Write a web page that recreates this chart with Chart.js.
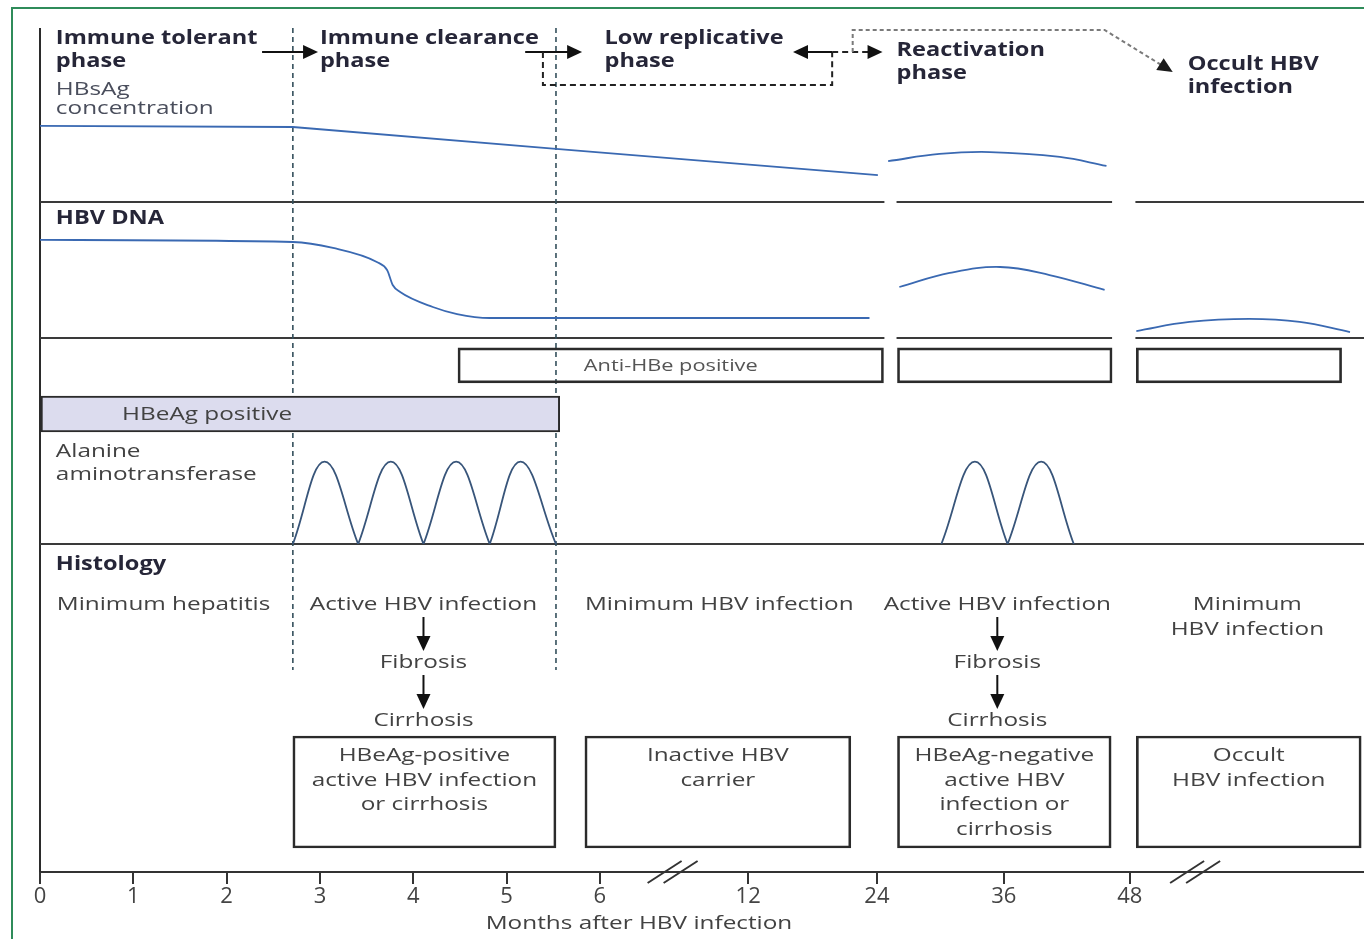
<!DOCTYPE html>
<html>
<head>
<meta charset="utf-8">
<title>Natural history of chronic HBV infection</title>
<script src="https://cdn.jsdelivr.net/npm/chart.js@4.4.1/dist/chart.umd.min.js"></script>
<style>
  html, body { margin: 0; padding: 0; background: #fff; }
  #wrap { width: 1364px; height: 939px; }
</style>
</head>
<body>
<div id="wrap"><canvas id="phaseChart" width="1364" height="939"></canvas></div>
<script>
// x axis is broken: months 0-6 linear, then compressed steps (12, 24, 36, 48)
const tickPos = [0, 1, 2, 3, 4, 5, 6, 7.59, 8.97, 10.33, 11.68];
const tickLabels = ['0', '1', '2', '3', '4', '5', '6', '12', '24', '36', '48'];
const xEnd = 14.19;
const axisBreaks = [6.78, 12.38];

// phase borders (dashed verticals) and divider segments between panels
const phaseBorders = [2.71, 5.53];
const dividerSegments = [[0, 9.05], [9.18, 11.49], [11.74, xEnd]];

// HBsAg concentration (% of panel height)
const hbsagPhase1X = [0, 2.71, 5.53, 8.98];
const hbsagPhase1 = [43.7, 43.1, 30.5, 15.5];
const hbsagReactX = [9.09, 9.64, 10.18, 10.93, 11.43];
const hbsagReact = [23.5, 27.6, 28.7, 25.9, 20.7];

// HBV DNA (% of panel height)
const dnaPhase1X = [0, 2.71, 3.14, 3.61, 3.72, 3.78, 3.86, 4.21, 4.47, 4.82, 8.89];
const dnaPhase1 = [72.1, 70.6, 66.2, 55.9, 50.0, 39.0, 33.8, 22.8, 17.6, 14.7, 14.7];
const dnaReactX = [9.21, 9.75, 10.29, 10.82, 11.41];
const dnaReact = [37.5, 47.8, 52.2, 46.3, 35.3];
const dnaOccultX = [11.75, 12.32, 12.96, 13.5, 14.04];
const dnaOccult = [5.1, 11.8, 14.0, 11.8, 4.4];

// alanine aminotransferase flares
const altStartX = [2.71, 3.41, 4.11, 4.82, 9.66, 10.37];
const altPeakX = [3.05, 3.76, 4.46, 5.15, 10.02, 10.73];
const altEndX = [3.41, 4.11, 4.82, 5.53, 10.37, 11.08];
const altPeak = [40, 40, 40, 40, 40, 40];

// serology bars
const antiHbeStart = [4.48, 9.19, 11.75];
const antiHbeEnd = [9.04, 11.49, 13.95];
const antiHbeLevel = 86.7;
const hbeagStart = [0];
const hbeagEnd = [5.57];
const hbeagLevel = 63.1;

// outcome boxes (histology panel)
const outcomeStart = [2.71, 5.84, 9.19, 11.75];
const outcomeEnd = [5.53, 8.69, 11.48, 14.16];
const outcomeLevel = 24.4;
const outcomeLabels = [
  ['HBeAg-positive', 'active HBV infection', 'or cirrhosis'],
  ['Inactive HBV', 'carrier'],
  ['HBeAg-negative', 'active HBV', 'infection or', 'cirrhosis'],
  ['Occult', 'HBV infection']
];

const phaseNames = [
  ['Immune tolerant', 'phase'],
  ['Immune clearance', 'phase'],
  ['Low replicative', 'phase'],
  ['Reactivation', 'phase'],
  ['Occult HBV', 'infection']
];
const phaseNameX = [0.17, 3.0, 6.05, 9.18, 12.3];

const INK = '#2b2b2b';
const HEAD = '#262638';
const TXT = '#424242';
const BLUE = '#3a69b2';
const BOLD = 'bold 19px "Open Sans"';
const REG = '19px "Open Sans"';

function pts(xs, ys) {
  return xs.map((x, i) => ({ x: x, y: ys[i] }));
}

function altPoints() {
  const out = [];
  altStartX.forEach((x, i) => {
    if (i > 0) out.push({ x: x, y: null });
    out.push({ x: x, y: 0 }, { x: altPeakX[i], y: altPeak[i] }, { x: altEndX[i], y: 0 });
  });
  return out;
}

// the source artwork is set in a wide face, so stretch the text a little
function text(c, s, x, y, font, color, align) {
  c.save();
  c.font = font;
  c.fillStyle = color;
  c.textAlign = align || 'left';
  c.textBaseline = 'alphabetic';
  c.translate(x, y);
  c.scale(font.indexOf('bold') === 0 ? 1.24 : 1.28, 1);
  c.fillText(s, 0, 0);
  c.restore();
}

function seg(c, x1, y1, x2, y2, color, w, dash) {
  c.save();
  c.strokeStyle = color;
  c.lineWidth = w;
  c.setLineDash(dash || []);
  c.beginPath();
  c.moveTo(x1, y1);
  c.lineTo(x2, y2);
  c.stroke();
  c.restore();
}

function head(c, x, y, ang, color) {
  c.save();
  c.translate(x, y);
  c.rotate(ang);
  c.beginPath();
  c.moveTo(0, 0);
  c.lineTo(-15, -7);
  c.lineTo(-15, 7);
  c.closePath();
  c.fillStyle = color;
  c.fill();
  c.restore();
}

const diagram = {
  id: 'diagram',
  beforeDraw(chart) {
    const c = chart.ctx;
    c.save();
    c.strokeStyle = '#2f8c5a';
    c.lineWidth = 2;
    c.beginPath();
    c.moveTo(12, chart.height);
    c.lineTo(12, 8);
    c.lineTo(chart.width, 8);
    c.stroke();
    c.restore();
  },
  beforeDatasetsDraw(chart) {
    const { ctx: c, chartArea: ca, scales: s } = chart;
    const X = v => s.x.getPixelForValue(v);
    seg(c, ca.left, ca.top, ca.left, ca.bottom, INK, 2);
    [s.yDna.top, s.yAlt.top].forEach(y => {
      dividerSegments.forEach(([a, b]) => seg(c, X(a), y, X(b), y, '#3a3a3a', 2));
    });
    seg(c, ca.left, s.yHis.top, ca.right, s.yHis.top, '#3a3a3a', 2);
    phaseBorders.forEach(v => seg(c, X(v), ca.top, X(v), s.yHis.top + 126, '#34505c', 1.6, [5, 4]));
  },
  afterDatasetsDraw(chart) {
    const { ctx: c, chartArea: ca, scales: s } = chart;
    const X = v => s.x.getPixelForValue(v);
    const top = ca.top;

    // phase names
    phaseNames.forEach((lines, i) => {
      const dy = i === 3 ? 28 : (i === 4 ? 42 : 16);
      lines.forEach((t, k) => text(c, t, X(phaseNameX[i]), top + dy + k * 23, BOLD, HEAD));
    });

    // phase transition arrows
    const ay = top + 24;
    seg(c, X(2.38), ay, X(2.98) - 14, ay, '#111', 2);
    head(c, X(2.98), ay, 0, '#111');
    seg(c, X(5.2), ay, X(5.81) - 14, ay, '#111', 2);
    head(c, X(5.81), ay, 0, '#111');
    c.save();
    c.strokeStyle = '#222'; c.lineWidth = 2; c.setLineDash([6, 4]);
    c.beginPath();
    c.moveTo(X(5.39), ay); c.lineTo(X(5.39), top + 57); c.lineTo(X(8.49), top + 57); c.lineTo(X(8.49), ay);
    c.stroke();
    c.restore();
    seg(c, X(8.49), ay, X(8.07) + 14, ay, '#111', 2);
    head(c, X(8.07), ay, Math.PI, '#111');
    seg(c, X(8.49), ay, X(9.03) - 14, ay, '#222', 2, [6, 4]);
    head(c, X(9.03), ay, 0, '#111');
    const tipX = X(12.14), tipY = top + 44;
    const fromX = X(11.41), fromY = top + 2;
    const ang = Math.atan2(tipY - fromY, tipX - fromX);
    c.save();
    c.strokeStyle = '#7a7a7a'; c.lineWidth = 2; c.setLineDash([4, 3]);
    c.beginPath();
    c.moveTo(X(8.71), ay); c.lineTo(X(8.71), fromY); c.lineTo(fromX, fromY);
    c.lineTo(tipX - 14 * Math.cos(ang), tipY - 14 * Math.sin(ang));
    c.stroke();
    c.restore();
    head(c, tipX, tipY, ang, '#1a1a1a');

    // panel labels
    text(c, 'HBsAg', X(0.17), top + 67, REG, '#4a4e5c');
    text(c, 'concentration', X(0.17), top + 86, REG, '#4a4e5c');
    text(c, 'HBV DNA', X(0.17), s.yDna.top + 22, BOLD, HEAD);
    text(c, 'Anti-HBe positive', X(6.76), s.yAlt.top + 33, '17px "Open Sans"', '#555', 'center');
    text(c, 'HBeAg positive', X(0.88), s.yAlt.top + 82, REG, TXT);
    text(c, 'Alanine', X(0.17), s.yAlt.top + 119, REG, TXT);
    text(c, 'aminotransferase', X(0.17), s.yAlt.top + 142, REG, TXT);

    // histology
    const h = s.yHis.top;
    text(c, 'Histology', X(0.17), h + 26, BOLD, HEAD);
    text(c, 'Minimum hepatitis', X(0.18), h + 66, REG, TXT);
    text(c, 'Minimum HBV infection', X(7.28), h + 66, REG, TXT, 'center');
    text(c, 'Minimum', X(12.94), h + 66, REG, TXT, 'center');
    text(c, 'HBV infection', X(12.94), h + 91, REG, TXT, 'center');
    [4.11, 10.26].forEach(v => {
      const x = X(v);
      text(c, 'Active HBV infection', x, h + 66, REG, TXT, 'center');
      seg(c, x, h + 73, x, h + 94, '#111', 2);
      head(c, x, h + 107, Math.PI / 2, '#111');
      text(c, 'Fibrosis', x, h + 124, REG, TXT, 'center');
      seg(c, x, h + 131, x, h + 152, '#111', 2);
      head(c, x, h + 165, Math.PI / 2, '#111');
      text(c, 'Cirrhosis', x, h + 182, REG, TXT, 'center');
    });
    outcomeLabels.forEach((lines, i) => {
      const x = X((outcomeStart[i] + outcomeEnd[i]) / 2);
      lines.forEach((t, k) => text(c, t, x, h + 217 + k * 24.7, REG, TXT, 'center'));
    });

    // axis breaks and title
    axisBreaks.forEach(v => {
      const x = X(v);
      [-8, 8].forEach(o => seg(c, x + o - 17, ca.bottom + 11, x + o + 17, ca.bottom - 11, '#333', 2));
    });
    text(c, 'Months after HBV infection', X(6.42), ca.bottom + 57, REG, TXT, 'center');
  }
};

const panel = (weight, stackWeight) => ({
  type: 'linear', display: false, min: 0, max: 100, offset: false,
  stack: 'panels', stackWeight: stackWeight, weight: weight
});

const lineStyle = { type: 'line', borderColor: BLUE, borderWidth: 1.8, pointRadius: 0, fill: false, tension: 0 };
const boxStyle = {
  type: 'bar', indexAxis: 'y', grouped: false, borderColor: INK, borderWidth: 2,
  borderSkipped: false, backgroundColor: 'rgba(255,255,255,0)'
};

const chart = new Chart(document.getElementById('phaseChart'), {
  type: 'line',
  data: {
    datasets: [
      Object.assign({}, lineStyle, { label: 'HBsAg', yAxisID: 'ySag', data: pts(hbsagPhase1X, hbsagPhase1) }),
      Object.assign({}, lineStyle, { label: 'HBsAg reactivation', yAxisID: 'ySag', tension: 0.4, data: pts(hbsagReactX, hbsagReact) }),
      Object.assign({}, lineStyle, { label: 'HBV DNA', yAxisID: 'yDna', cubicInterpolationMode: 'monotone', data: pts(dnaPhase1X, dnaPhase1) }),
      Object.assign({}, lineStyle, { label: 'HBV DNA reactivation', yAxisID: 'yDna', tension: 0.4, data: pts(dnaReactX, dnaReact) }),
      Object.assign({}, lineStyle, { label: 'HBV DNA occult', yAxisID: 'yDna', tension: 0.4, data: pts(dnaOccultX, dnaOccult) }),
      Object.assign({}, lineStyle, { label: 'ALT', yAxisID: 'yAlt', borderColor: '#38557a', tension: 0.4, spanGaps: false, data: altPoints() }),
      Object.assign({}, boxStyle, { label: 'Anti-HBe positive', yAxisID: 'yAlt', barThickness: 35,
        data: antiHbeStart.map((v, i) => ({ x: [v, antiHbeEnd[i]], y: antiHbeLevel })) }),
      Object.assign({}, boxStyle, { label: 'HBeAg positive', yAxisID: 'yAlt', barThickness: 36, backgroundColor: '#dcdcee',
        data: hbeagStart.map((v, i) => ({ x: [v, hbeagEnd[i]], y: hbeagLevel })) }),
      Object.assign({}, boxStyle, { label: 'Outcome', yAxisID: 'yHis', barThickness: 112,
        data: outcomeStart.map((v, i) => ({ x: [v, outcomeEnd[i]], y: outcomeLevel })) })
    ]
  },
  options: {
    responsive: false,
    animation: false,
    events: [],
    layout: { padding: { left: 40, top: 28, right: 0, bottom: 0 } },
    plugins: { legend: { display: false }, tooltip: { enabled: false } },
    scales: {
      x: {
        type: 'linear', min: 0, max: xEnd, offset: false,
        afterBuildTicks: scale => { scale.ticks = tickPos.map(v => ({ value: v })); },
        afterFit: scale => { scale.height = 67; },
        grid: { drawOnChartArea: false, drawTicks: true, tickLength: 12, color: '#333', lineWidth: 2 },
        border: { display: true, color: '#333', width: 2 },
        ticks: {
          autoSkip: false, maxRotation: 0, padding: 0, color: '#444',
          font: { family: 'Open Sans', size: 22 },
          callback: (value, index) => tickLabels[index]
        }
      },
      ySag: panel(4, 174),
      yDna: panel(3, 136),
      yAlt: panel(2, 206),
      yHis: panel(1, 328)
    }
  },
  plugins: [diagram]
});
</script>
</body>
</html>
